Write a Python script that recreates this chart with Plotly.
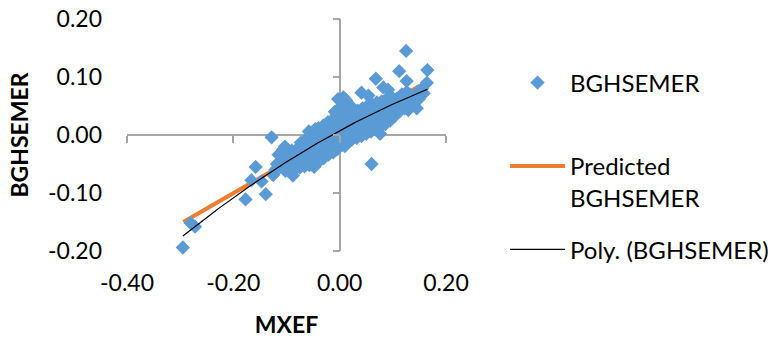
import numpy as np
import plotly.graph_objects as go

# ---- data ----
mxef = [
    -0.295, -0.280, -0.272, -0.177, -0.158, -0.166, -0.147, -0.139, -0.128, -0.103, -0.125, -0.115, -0.106, -0.088,
    0.060, 0.076, 0.125, 0.165, 0.112, 0.126, 0.164, 0.068, 0.082, 0.091, 0.041, 0.054, 0.007, -0.003, 0.012, 0.145, 0.129, 0.010, -0.043,
    -0.121, -0.118,
    -0.113, -0.110,
    -0.102, -0.099, -0.101, -0.098,
    -0.092, -0.089, -0.093, -0.090,
    -0.083, -0.080, -0.084, -0.081,
    -0.075, -0.072, -0.074, -0.071, -0.073,
    -0.066, -0.063, -0.065, -0.062, -0.064,
    -0.057, -0.054, -0.056, -0.053, -0.055, -0.058,
    -0.048, -0.044, -0.047, -0.045, -0.049, -0.043, -0.046,
    -0.039, -0.036, -0.038, -0.035, -0.037, -0.040,
    -0.030, -0.027, -0.029, -0.026, -0.028, -0.031,
    -0.021, -0.018, -0.020, -0.017, -0.019, -0.022,
    -0.012, -0.009, -0.011, -0.008, -0.010, -0.013, -0.009,
    -0.004, -0.001, -0.003, 0.000, -0.002, -0.005, 0.001,
    0.005, 0.008, 0.006, 0.009, 0.007, 0.004, 0.010,
    0.014, 0.017, 0.015, 0.018, 0.016, 0.013,
    0.023, 0.026, 0.024, 0.027, 0.025, 0.022,
    0.032, 0.035, 0.033, 0.036, 0.034,
    0.041, 0.044, 0.042, 0.045, 0.043,
    0.050, 0.053, 0.051, 0.054, 0.052,
    0.059, 0.062, 0.060, 0.063, 0.061,
    0.068, 0.071, 0.069, 0.072, 0.070,
    0.077, 0.080, 0.078, 0.081, 0.079,
    0.086, 0.089, 0.087, 0.090, 0.088,
    0.095, 0.098, 0.096, 0.099, 0.097,
    0.104, 0.107, 0.105, 0.108,
    0.113, 0.116, 0.114, 0.117,
    0.122, 0.125, 0.123, 0.126,
    0.131, 0.134, 0.132,
    0.140, 0.143, 0.147,
    0.149, 0.152, 0.155, 0.158,
]
bghsemer = [
    -0.194, -0.152, -0.158, -0.111, -0.055, -0.078, -0.080, -0.102, -0.004, -0.020, -0.069, -0.034, -0.025, -0.070,
    -0.050, 0.002, 0.145, 0.112, 0.110, 0.093, 0.090, 0.097, 0.082, 0.078, 0.073, 0.068, 0.065, 0.062, 0.060, 0.046, 0.043, -0.019, -0.049,
    -0.060, -0.050,
    -0.056, -0.045,
    -0.062, -0.052, -0.041, -0.031,
    -0.063, -0.050, -0.038, -0.027,
    -0.058, -0.047, -0.036, -0.025,
    -0.056, -0.044, -0.033, -0.022, -0.013,
    -0.054, -0.042, -0.031, -0.020, -0.008,
    -0.052, -0.040, -0.029, -0.018, -0.006, 0.006,
    -0.055, -0.041, -0.030, -0.018, -0.006, 0.004, 0.010,
    -0.044, -0.032, -0.020, -0.009, 0.002, 0.012,
    -0.040, -0.029, -0.017, -0.006, 0.005, 0.016,
    -0.034, -0.022, -0.011, 0.000, 0.011, 0.022,
    -0.030, -0.017, -0.006, 0.005, 0.016, 0.027, 0.040,
    -0.024, -0.011, 0.001, 0.012, 0.023, 0.034, 0.048,
    -0.017, -0.005, 0.007, 0.018, 0.029, 0.040, 0.052,
    -0.012, 0.001, 0.012, 0.023, 0.034, 0.045,
    -0.008, 0.005, 0.016, 0.027, 0.038, 0.049,
    -0.005, 0.008, 0.020, 0.031, 0.042,
    -0.002, 0.011, 0.023, 0.034, 0.046,
    0.002, 0.014, 0.026, 0.038, 0.050,
    0.006, 0.018, 0.030, 0.041, 0.053,
    0.010, 0.022, 0.033, 0.045, 0.056,
    0.014, 0.026, 0.037, 0.048, 0.058,
    0.019, 0.030, 0.041, 0.052, 0.062,
    0.025, 0.035, 0.045, 0.056, 0.066,
    0.033, 0.043, 0.053, 0.063,
    0.041, 0.051, 0.061, 0.070,
    0.046, 0.056, 0.065, 0.074,
    0.052, 0.061, 0.070,
    0.057, 0.066, 0.074,
    0.062, 0.071, 0.080, 0.072,
]
predicted_x = [-0.294, 0.151]
predicted_y = [-0.150, 0.085]

x_tick_vals = [-0.4, -0.2, 0.0, 0.2]
x_tick_labels = ["-0.40", "-0.20", "0.00", "0.20"]
y_tick_vals = [-0.2, -0.1, 0.0, 0.1, 0.2]
y_tick_labels = ["-0.20", "-0.10", "0.00", "0.10", "0.20"]

# polynomial (order 2) trendline fitted to the data
coef = np.polyfit(mxef, bghsemer, 2)
poly_x = np.linspace(min(mxef), max(mxef), 120)
poly_y = np.polyval(coef, poly_x)

AXIS_GRAY = "#A6A6A6"
BLUE = "#5B9BD5"
ORANGE = "#ED7D31"

fig = go.Figure()
fig.add_trace(go.Scatter(
    x=predicted_x, y=predicted_y, mode="lines", name="Predicted<br>BGHSEMER",
    line=dict(color=ORANGE, width=4), legendrank=2, legendgroup="b",
    cliponaxis=False, hoverinfo="skip"))
fig.add_trace(go.Scatter(
    x=mxef, y=bghsemer, mode="markers", name="BGHSEMER<br> ",
    marker=dict(symbol="diamond", size=11, color=BLUE, line=dict(width=0)),
    legendrank=1, legendgroup="a", cliponaxis=False))
fig.add_trace(go.Scatter(
    x=poly_x, y=poly_y, mode="lines", name="Poly. (BGHSEMER)",
    line=dict(color="black", width=1.2), legendrank=3, legendgroup="c",
    cliponaxis=False, hoverinfo="skip"))
# carrier for the tick-mark axes that cross at zero
fig.add_trace(go.Scatter(x=[], y=[], xaxis="x2", yaxis="y2", showlegend=False,
                         hoverinfo="skip"))

fig.update_layout(
    width=768, height=338,
    margin=dict(l=127, r=322, t=19, b=87, autoexpand=False),
    plot_bgcolor="white", paper_bgcolor="white",
    font=dict(family="Lato", size=23, color="black"),
    legend=dict(xref="container", yref="container", x=0.6576, y=0.821,
                xanchor="left", yanchor="top", maxheight=600,
                valign="top", tracegroupgap=18, itemwidth=55,
                font=dict(family="Lato", size=24, color="black"),
                bgcolor="rgba(0,0,0,0)"),
    xaxis=dict(range=[-0.4, 0.2], tickvals=x_tick_vals, ticktext=x_tick_labels,
               showgrid=False, zeroline=True, zerolinecolor=AXIS_GRAY,
               zerolinewidth=1.5, showline=False, ticks="",
               ticklabelstandoff=16,
               title=dict(text="MXEF", font=dict(weight="bold", size=23),
                          standoff=21)),
    yaxis=dict(range=[-0.2, 0.2], tickvals=y_tick_vals, ticktext=y_tick_labels,
               showgrid=False, zeroline=True, zerolinecolor=AXIS_GRAY,
               zerolinewidth=1.5, showline=False, ticks="",
               ticklabelstandoff=24,
               title=dict(text="BGHSEMER", font=dict(weight="bold", size=23),
                          standoff=12)),
    xaxis2=dict(overlaying="x", anchor="free", position=0.5, side="bottom",
                range=[-0.4, 0.2], tickvals=x_tick_vals, showticklabels=False,
                ticks="outside", ticklen=7, tickwidth=1.5, tickcolor=AXIS_GRAY,
                showgrid=False, zeroline=False, showline=False),
    yaxis2=dict(overlaying="y", anchor="free", position=0.4 / 0.6, side="left",
                range=[-0.2, 0.2], tickvals=y_tick_vals, showticklabels=False,
                ticks="outside", ticklen=7, tickwidth=1.5, tickcolor=AXIS_GRAY,
                showgrid=False, zeroline=False, showline=False),
)

fig.write_html("out.html")
